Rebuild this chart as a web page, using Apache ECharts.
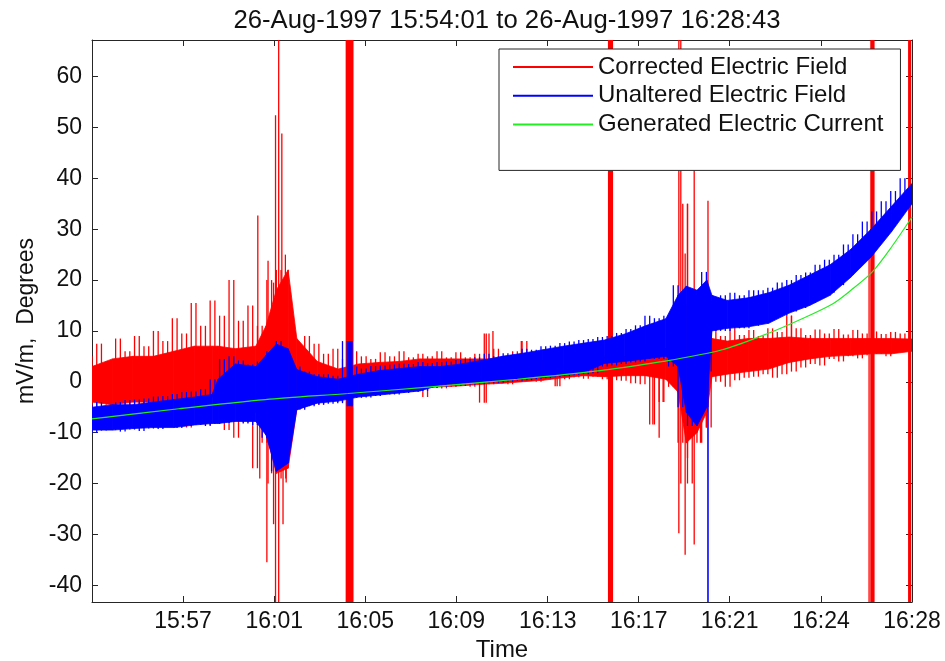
<!DOCTYPE html>
<html><head><meta charset="utf-8">
<script src="https://cdn.jsdelivr.net/npm/echarts@6.0.0/dist/echarts.min.js"></script>
<style>html,body{margin:0;padding:0;background:#fff}#c{width:945px;height:661px}</style>
</head><body><div id="c"></div>
<script>
// ---------- data ----------
const titleText = '26-Aug-1997 15:54:01 to 26-Aug-1997 16:28:43';
const seriesNames = ['Corrected Electric Field', 'Unaltered Electric Field', 'Generated Electric Current'];
const xAxisName = 'Time';
const yAxisName = 'mV/m,  Degrees';
const timeSpan = 2082;                 // seconds from 15:54:01 to 16:28:43
const tickSeconds = [231, 463, 694, 925, 1157, 1388, 1619, 1851, 2082];
const tickLabels = ['15:57', '16:01', '16:05', '16:09', '16:13', '16:17', '16:21', '16:24', '16:28'];
const yTicks = [-40, -30, -20, -10, 0, 10, 20, 30, 40, 50, 60];
const yMin = -43.3, yMax = 67.2;

// noisy extremes, one every 12 s, alternating upper / lower
const zigStep = 12;
const redZig = [
  5, -5, 7.5, -4.5, 4, -6, 8.5, -5, 6, -6.5,
  9, -5, 7, -6, 10, -5, 8, -7, 12.5, -6,
  9.5, -9, 15.5, -7.5, 11, -8.5, 16, -7, 13, -9.5,
  20, -11, 12, -8, 15, -17, 11, -12, 20, -18,
  22, -19, 9.5, -7, 6.5, -5, 9, -4.5, 7.5, -4.5,
  5.5, -4, 6.5, -4, 4.5, -3, 6, -3.2, 5, -2.5,
  4.5, -2.8, 5.8, -2, 5, -2.2, 6, -1.5, 4.8, -1.8,
  5.5, -3, 5, -1.2, 6, -1.3, 4.8, -1, 5.8, -0.8,
  4.8, -1, 5.5, -4.1, 9.5, -0.5, 6.5, -0.3, 5, -0.5,
  6, 0, 8, 0.2, 5, 0, 6, 0.5, 5, -0.9,
  5.5, 0.5, 6.5, 0.9, 5.5, 0.6, 6.5, 1, 6, 0.5,
  6.5, 0.3, 5.8, 0.2, 6.8, -0.3, 6, -0.5, 7, -8.4,
  6.5, -4, 7.5, -1, 10, -12, 35, -20, 15, -12,
  12, -9, 10.5, 0, 9, -1, 10.5, 0.3, 9.2, 0.8,
  10.2, 1, 9, 1.5, 10.5, 0.8, 9.8, 1.5, 13, 2,
  10.5, 2.8, 9.2, 3.5, 10.3, 3.2, 9.5, 4.5, 10.4, 4,
  9.3, 5, 10.2, 4.6, 9.5, 5.2, 9.9, 5.5, 9.4, 5,
  9.8, 5.8, 9.5, 6
];
const blueZig = [
  -4.5, -10, -4, -9.6, -4.8, -9.5, -4, -9.8, -3.6, -9.4,
  -3.5, -9.7, -3.3, -9.2, -2.9, -9.3, -2.8, -8.9, -2.4, -9.1,
  -2, -8.7, -1.9, -8.5, -1.4, -8.7, 0.5, -8.3, 4.5, -8.1,
  5, -7.8, 4.2, -8.2, 3.4, -8.5, 4, -11, 6, -17.6,
  8, -15, 4, -6, 3, -5.5, 2, -4.8, 1.5, -4.5,
  1.5, -4.3, 1.2, -4.2, 8, -4.8, 3, -3, 2.6, -3.1,
  3.1, -2.8, 3.2, -2.5, 3.4, -2.5, 3.6, -2.2, 3.5, -2,
  3.9, -1.8, 3.7, -1.2, 3.9, -1, 4, -0.9, 4.3, -0.8,
  4.5, -0.6, 4.8, -0.5, 5.5, -0.3, 5, -0.2, 5.6, 0,
  5.4, 0.2, 6.5, 0.3, 6.3, 0.5, 7, 0.7, 7.1, 0.9,
  7.6, 1.1, 7.9, 1.3, 8.2, 1.5, 8.4, 1.7, 8.8, 3,
  9, 3.2, 9.6, 3.5, 10.4, 3.8, 11.1, 4, 13, 4.5,
  12.5, 4.5, 13, 3, 19, -5, 18, -8.7, 17, -6,
  21.6, 2, 16, 10, 17, 10, 17.5, 10.5, 17, 10.5,
  18, 11, 18, 11.5, 18.5, 12.5, 19.5, 13, 20, 13.8,
  21, 14.5, 21.5, 15.5, 23, 16.5, 24, 17.5, 25, 19,
  27, 21, 29, 23, 31.5, 25, 33.5, 27.5, 35.5, 30,
  37.5, 32.5, 40, 35.5
];

// solid core of each band: sample times (s) and low / high edges
const bandT = [0, 52, 104, 156, 208, 260, 305, 320, 364, 416, 442, 468, 498, 520, 572, 625, 677, 729, 781, 833,
  885, 937, 989, 1041, 1093, 1145, 1197, 1249, 1301, 1353, 1405, 1457, 1488, 1509, 1536, 1561, 1574, 1613, 1666, 1718,
  1770, 1822, 1874, 1926, 1978, 2030, 2082];
const redLo = [-4, -4.5, -4, -4, -3.5, -3.5, -3, -3, -4, -6, -10, -18, -17, -5.5, -4, -3.5, -2.5, -2, -1.5, -1.2,
  -1, -0.8, -0.5, -0.3, 0, 0.3, 0.8, 1.2, 1, 1.2, 1.2, 0.5, -2, -12, -10, -6, 1, 1.5, 2, 2.5,
  3.8, 4.5, 5, 5.2, 5.5, 5.5, 6];
const redHi = [3, 4.5, 5, 5, 6, 7, 7, 7, 6.5, 7, 11, 18, 22, 8.5, 4, 2.5, 3.5, 3.8, 4, 4.5,
  4.5, 4.5, 4.5, 4.5, 4.5, 4, 3.2, 3.6, 5, 5, 5.5, 6.5, 10, 15, 12, 10, 8.5, 8, 8.5, 8.5,
  8.8, 8.5, 8.5, 8.5, 8.5, 8.5, 8.4];
const blueLo = [-9.5, -9.5, -9.2, -9, -9, -8.5, -8.2, -8.2, -7.8, -7.8, -10.5, -17.6, -16, -5.5, -4.2, -3.8, -3, -2.6, -2.2, -1.8,
  -0.6, -0.3, 0, 0.3, 0.6, 0.9, 1.3, 1.8, 3.6, 4, 4.5, 5, 3, -6, -8.7, -5, 10, 10.5, 10.8, 11.5,
  13.5, 15, 17, 20.5, 24.5, 29.5, 35];
const blueHi = [-5, -4.5, -4.5, -4, -3.5, -3, -2.5, 0.5, 3.5, 3, 5.2, 7.4, 6.5, 2.4, 1, 0.5, 1.5, 2.2, 2.6, 3,
  3, 3.5, 4.2, 5, 5.6, 6.3, 7, 7.6, 8.2, 9.4, 11, 12.4, 17, 18.8, 18, 20, 17, 16, 16.5, 17.5,
  19, 21, 23, 26, 30, 34.5, 39];

// isolated spikes and bursts: [start s, end s, low, high]
const redSpikes = [
  [421, 421, 0, 32.7], [426, 426, -19, 0], [444, 444, -35.5, 10], [447, 447, -20, 23.8],
  [461, 461, -28, 19.5], [466, 466, -50, 52.4], [474, 474, -50, 80], [482, 482, -10, 48.8],
  [485, 485, -28, 0], [491, 491, -15, 25], [493, 493, -19.8, 0], [644, 664, -50, 80],
  [1001, 1001, -4.1, 9.5], [1018, 1018, 0, 10], [1090, 1090, 0, 8], [1181, 1181, -0.9, 3],
  [1310, 1323, -50, 80], [1424, 1424, -8.4, 2], [1440, 1440, -11, 2], [1450, 1450, -4, 2],
  [1490, 1490, -29.8, 80], [1495, 1495, -20, 80], [1506, 1506, -34, 25.2], [1512, 1512, -15, 35],
  [1529, 1529, -32, 55], [1545, 1545, -12, 10], [1560, 1560, -9, 10], [1564, 1564, -5, 35.6],
  [1776, 1776, 5, 13], [1973, 1973, -50, 24.5], [1976, 1987, -50, 80], [2072, 2080, -50, 80]
];
const blueSpikes = [[648, 662, -4.8, 8], [1562, 1566, -50, 15]];

// smooth green curve
const greenT = [0, 220, 440, 650, 860, 1080, 1290, 1450, 1600, 1716, 1800, 1880, 1927, 1980, 2030, 2082];
const greenV = [-7.3, -5.3, -3.5, -2.3, -1.0, 0.5, 2.2, 4.0, 6.3, 9.5, 12.3, 15.3, 18, 21.5, 26.5, 32.4];

// ---------- chart ----------
const FONT = "'Liberation Sans', Arial, sans-serif";
const INK = '#111';
const FRAME = '#262626';
const RED = '#ff0000', BLUE = '#0000ff', GREEN = '#22ee22';

// one vertical hairline per sample, covering the swing to the next sample
const hairData = z => z.map((v, i) => {
  const w = i + 1 < z.length ? z[i + 1] : v;
  return [i * zigStep, i * zigStep, Math.min(v, w), Math.max(v, w)];
});
// band segments between consecutive core samples
const bandData = (lo, hi) => lo.slice(0, -1).map((v, i) =>
  [bandT[i], bandT[i + 1], v, hi[i], lo[i + 1], hi[i + 1]]);

function spikeRenderer(color) {
  return function (params, api) {
    const t0 = api.value(0), t1 = api.value(1), lo = api.value(2), hi = api.value(3);
    const a = api.coord([t0, hi]), b = api.coord([t1, lo]);
    let x = a[0], w = b[0] - a[0];
    if (w < 1.3) { x = (a[0] + b[0]) / 2 - 0.65; w = 1.3; }
    const cs = params.coordSys;
    const shape = echarts.graphic.clipRectByRect(
      { x: x, y: a[1], width: w, height: b[1] - a[1] },
      { x: cs.x, y: cs.y, width: cs.width, height: cs.height });
    return shape && { type: 'rect', shape: shape, style: { fill: color } };
  };
}
function bandRenderer(color) {
  return function (params, api) {
    const t0 = api.value(0), t1 = api.value(1);
    const pts = [
      api.coord([t0, api.value(2)]), api.coord([t0, api.value(3)]),
      api.coord([t1, api.value(5)]), api.coord([t1, api.value(4)])
    ];
    return { type: 'polygon', shape: { points: pts },
      style: { fill: color, stroke: color, lineWidth: 0.8 } };
  };
}

function custom(name, data, renderer, color, yDims) {
  return { type: 'custom', name: name, data: data, clip: true, silent: true,
    encode: { x: [0, 1], y: yDims }, renderItem: renderer(color), itemStyle: { color: color } };
}

const axisCommon = {
  type: 'value', splitLine: { show: false },
  axisLine: { show: true, onZero: false, lineStyle: { color: FRAME, width: 1 } }
};
const tickStyle = { show: true, inside: true, length: 6, lineStyle: { color: FRAME, width: 1 } };

const chart = echarts.init(document.getElementById('c'), null, { renderer: 'canvas' });
chart.setOption({
  animation: false,
  backgroundColor: '#fff',
  textStyle: { fontFamily: FONT },
  title: {
    text: titleText, left: 502, textAlign: 'center', top: 3,
    textStyle: { fontFamily: FONT, fontSize: 25.7, fontWeight: 'normal', color: INK }
  },
  grid: { left: 92, right: 33, top: 40, bottom: 59, show: false, outerBoundsMode: 'none', containLabel: false },
  legend: {
    data: seriesNames, orient: 'vertical', left: 499, top: 49,
    backgroundColor: '#fff', borderColor: FRAME, borderWidth: 1, borderRadius: 0,
    padding: [6, 17, 34, 14], itemWidth: 80, itemHeight: 2, itemGap: 4.7, icon: 'rect',
    textStyle: { fontFamily: FONT, fontSize: 24, lineHeight: 24, color: INK }
  },
  xAxis: [
    Object.assign({}, axisCommon, {
      min: 0, max: timeSpan, position: 'bottom',
      name: xAxisName, nameLocation: 'middle', nameGap: 36,
      nameTextStyle: { fontFamily: FONT, fontSize: 24, color: INK },
      axisTick: Object.assign({ customValues: tickSeconds }, tickStyle),
      axisLabel: {
        customValues: tickSeconds, fontFamily: FONT, fontSize: 23, color: INK, margin: 8,
        formatter: v => tickLabels[tickSeconds.indexOf(v)] || ''
      }
    }),
    Object.assign({}, axisCommon, {
      min: 0, max: timeSpan, position: 'top',
      axisTick: Object.assign({ customValues: tickSeconds }, tickStyle),
      axisLabel: { show: false }
    })
  ],
  yAxis: [
    Object.assign({}, axisCommon, {
      min: yMin, max: yMax, position: 'left',
      name: yAxisName, nameLocation: 'middle', nameGap: 50,
      nameTextStyle: { fontFamily: FONT, fontSize: 23, color: INK },
      axisTick: Object.assign({ customValues: yTicks }, tickStyle),
      axisLabel: { customValues: yTicks, fontFamily: FONT, fontSize: 23, color: INK, margin: 10 }
    }),
    Object.assign({}, axisCommon, {
      min: yMin, max: yMax, position: 'right',
      axisTick: Object.assign({ customValues: yTicks }, tickStyle),
      axisLabel: { show: false }
    })
  ],
  series: [
    custom('redBand', bandData(redLo, redHi), bandRenderer, RED, [2, 3, 4, 5]),
    custom(seriesNames[0], hairData(redZig), spikeRenderer, RED, [2, 3]),
    custom('redSpikes', redSpikes, spikeRenderer, RED, [2, 3]),
    custom('blueBand', bandData(blueLo, blueHi), bandRenderer, BLUE, [2, 3, 4, 5]),
    custom(seriesNames[1], hairData(blueZig), spikeRenderer, BLUE, [2, 3]),
    custom('blueSpikes', blueSpikes, spikeRenderer, BLUE, [2, 3]),
    { type: 'line', name: seriesNames[2], data: greenT.map((t, i) => [t, greenV[i]]),
      symbol: 'none', smooth: 0.3, lineStyle: { color: GREEN, width: 1.2 }, itemStyle: { color: GREEN } }
  ]
});
</script>
</body></html>
